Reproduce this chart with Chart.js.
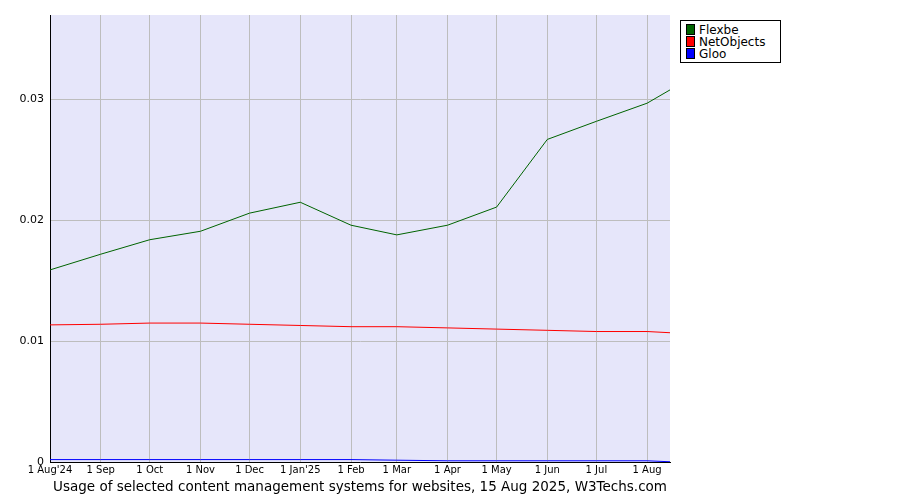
<!DOCTYPE html>
<html>
<head>
<meta charset="utf-8">
<script src="https://cdn.jsdelivr.net/npm/chart.js@4/dist/chart.umd.min.js"></script>
<style>
  body { margin: 0; background: #fff; font-family: "DejaVu Sans", sans-serif; }
  #wrap { position: relative; width: 900px; height: 500px; }
  #legend { position: absolute; left: 680px; top: 20px; width: 101px; border: 1px solid #000;
    background: #fff; font-size: 12px; line-height: 11px; padding: 3px 0 2px 5px; box-sizing: border-box; }
  #legend span.sw { display: inline-block; width: 7px; height: 9px; border: 1px solid #000; margin-right: 4px; vertical-align: -1px; }
</style>
</head>
<body>
<div id="wrap">
  <canvas id="chart" width="900" height="500"></canvas>
  <div id="legend"></div>
</div>
<script>
// days since 1 Aug 2024
var days = [0, 31, 61, 92, 122, 153, 184, 212, 243, 273, 304, 334, 365, 379];
var tickDays = [0, 31, 61, 92, 122, 153, 184, 212, 243, 273, 304, 334, 365];
var tickLabels = ['1 Aug\'24', '1 Sep', '1 Oct', '1 Nov', '1 Dec', '1 Jan\'25', '1 Feb', '1 Mar', '1 Apr', '1 May', '1 Jun', '1 Jul', '1 Aug'];

var flexbe = [0.0159, 0.0172, 0.0184, 0.0191, 0.0206, 0.0215, 0.0196, 0.0188, 0.0196, 0.0211, 0.0267, 0.0282, 0.0297, 0.0308];
var netObjects = [0.01135, 0.0114, 0.0115, 0.0115, 0.0114, 0.0113, 0.0112, 0.0112, 0.0111, 0.0110, 0.0109, 0.0108, 0.0108, 0.0107];
var gloo = [0.0002, 0.0002, 0.0002, 0.0002, 0.0002, 0.0002, 0.0002, 0.00015, 0.0001, 0.0001, 0.0001, 0.0001, 0.0001, 0.00002];

var seriesNames = ['Flexbe', 'NetObjects', 'Gloo'];
var seriesColors = ['#006400', '#ff0000', '#0000ff'];
var seriesData = [flexbe, netObjects, gloo];

function toPoints(vals) {
    return vals.map(function(v, i) { return { x: days[i], y: v }; });
}

var legend = document.getElementById('legend');
seriesNames.forEach(function(n, i) {
    legend.innerHTML += '<div><span class="sw" style="background:' + seriesColors[i] + '"></span>' + n + '</div>';
});

var bgPlugin = {
    id: 'bg',
    beforeDraw: function(c) {
        var a = c.chartArea;
        c.ctx.save();
        c.ctx.fillStyle = '#e6e6fa';
        c.ctx.fillRect(a.left, a.top, a.right - a.left, a.bottom - a.top);
        c.ctx.restore();
    }
};

Chart.defaults.font.family = 'DejaVu Sans';
Chart.defaults.color = '#000';

new Chart(document.getElementById('chart'), {
    type: 'line',
    data: {
        datasets: seriesNames.map(function(n, i) {
            return {
                label: n,
                data: toPoints(seriesData[i]),
                borderColor: seriesColors[i],
                borderWidth: 1,
                pointRadius: 0,
                tension: 0,
                fill: false
            };
        })
    },
    options: {
        responsive: false,
        animation: false,
        layout: { padding: { top: 15, right: 230, left: 0, bottom: 0 } },
        plugins: { legend: { display: false }, tooltip: { enabled: false } },
        scales: {
            x: {
                type: 'linear',
                min: 0,
                max: 379,
                afterBuildTicks: function(s) { s.ticks = tickDays.map(function(d) { return { value: d }; }); },
                afterFit: function(s) { s.height = 38; },
                ticks: {
                    autoSkip: false,
                    maxRotation: 0,
                    padding: 2,
                    font: { size: 10 },
                    callback: function(v) { return tickLabels[tickDays.indexOf(v)]; }
                },
                grid: { color: '#bdbdbd', drawTicks: false },
                border: { color: '#000' },
                title: { display: true, text: 'Usage of selected content management systems for websites, 15 Aug 2025, W3Techs.com', font: { size: 13.5 }, padding: { top: 4 } }
            },
            y: {
                min: 0,
                max: 0.037,
                afterBuildTicks: function(s) { s.ticks = [0, 0.01, 0.02, 0.03].map(function(v) { return { value: v }; }); },
                afterFit: function(s) { s.width = 50; },
                ticks: {
                    font: { size: 11 },
                    padding: 6,
                    callback: function(v) { return v === 0 ? '0' : v.toFixed(2); }
                },
                grid: { color: '#bdbdbd', drawTicks: false },
                border: { color: '#000' }
            }
        }
    },
    plugins: [bgPlugin]
});
</script>
</body>
</html>
